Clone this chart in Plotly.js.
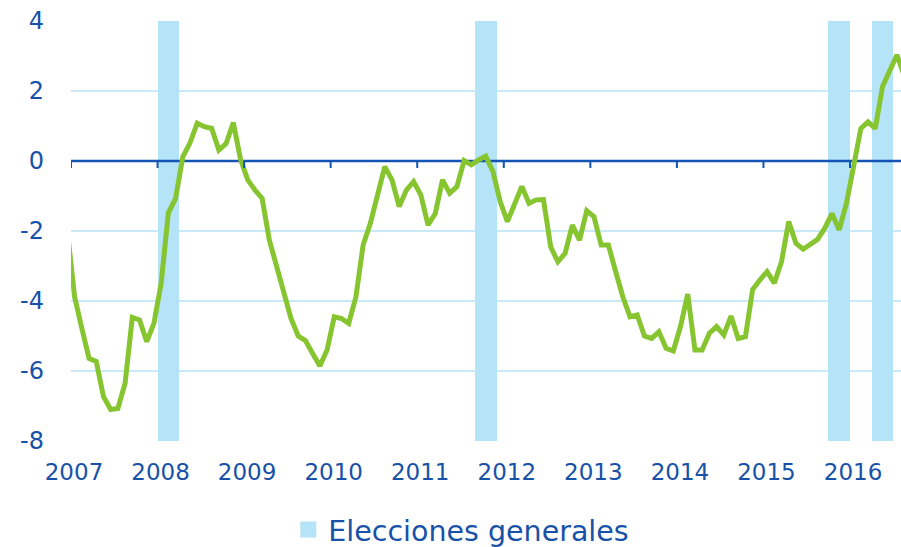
<!DOCTYPE html>
<html>
<head>
<meta charset="utf-8">
<script src="https://cdn.plot.ly/plotly-3.0.1.min.js"></script>
<style>
  html, body { margin: 0; padding: 0; background: #ffffff; }
  #chart { width: 901px; height: 547px; }
</style>
</head>
<body>
<div id="chart"></div>
<script>
// ---- Data ----
// Monthly series, first value = December 2006 (partly outside the axis range)
const firstMonth = "2006-12";
const vals2006 = [-2.0];
const vals2007 = [-3.88, -4.78, -5.64, -5.73, -6.73, -7.10, -7.07, -6.35, -4.47, -4.54, -5.16, -4.64];
const vals2008 = [-3.49, -1.48, -1.07, 0.12, 0.52, 1.08, 0.98, 0.93, 0.31, 0.50, 1.10, 0.05];
const vals2009 = [-0.54, -0.83, -1.07, -2.26, -3.02, -3.76, -4.50, -5.00, -5.13, -5.50, -5.86, -5.40];
const vals2010 = [-4.45, -4.50, -4.64, -3.88, -2.40, -1.78, -0.92, -0.16, -0.54, -1.30, -0.83, -0.59];
const vals2011 = [-0.97, -1.83, -1.50, -0.54, -0.92, -0.73, 0.01, -0.11, 0.03, 0.14, -0.30, -1.16];
const vals2012 = [-1.73, -1.21, -0.73, -1.21, -1.11, -1.10, -2.45, -2.88, -2.64, -1.83, -2.26, -1.42];
const vals2013 = [-1.59, -2.40, -2.40, -3.15, -3.88, -4.45, -4.40, -5.00, -5.07, -4.88, -5.35, -5.43];
const vals2014 = [-4.73, -3.80, -5.40, -5.40, -4.92, -4.73, -4.97, -4.43, -5.07, -5.02, -3.67, -3.40];
const vals2015 = [-3.16, -3.49, -2.88, -1.73, -2.35, -2.52, -2.40, -2.24, -1.92, -1.50, -1.97, -1.21];
const vals2016 = [-0.15, 0.93, 1.12, 0.93, 2.12, 2.55, 3.03, 2.45];

// Elections (shaded periods), months inclusive start / exclusive end
const electionStart = ["2008-01", "2011-09", "2015-10", "2016-04"];
const electionEnd   = ["2008-04", "2011-12", "2016-01", "2016-07"];
const electionName = "Elecciones generales";

// Axis
const yearTicks = [2007, 2008, 2009, 2010, 2011, 2012, 2013, 2014, 2015, 2016];
const yTickVals = [-8, -6, -4, -2, 0, 2, 4];
const yTickText = ["-8", "-6", "-4", "-2", "0", "2", "4"];
const xRange = [2007, 2016.589];
const yRange = [-8, 4];

// ---- Build ----
function toYear(ym) {
  const [y, m] = ym.split("-").map(Number);
  return y + (m - 1) / 12;
}
const values = [].concat(vals2006, vals2007, vals2008, vals2009, vals2010,
                         vals2011, vals2012, vals2013, vals2014, vals2015, vals2016);
const x0 = toYear(firstMonth);
const xs = values.map((_, i) => x0 + (i + 0.5) / 12);

const bandX = electionStart.map((s, i) => (toYear(s) + toYear(electionEnd[i])) / 2);
const bandW = electionStart.map((s, i) => toYear(electionEnd[i]) - toYear(s));
const bandH = electionStart.map(() => yRange[1] - yRange[0]);
const bandBase = electionStart.map(() => yRange[0]);

const BLUE = "#1752A8";
const AXISBLUE = "#1454B4";
const BAND = "#B5E3F7";
const GRID = "#C9E9F8";
const GREEN = "#86C530";
const FONT = "DejaVu Sans, Liberation Sans, Arial, sans-serif";

const traces = [
  {
    type: "bar",
    x: bandX,
    y: bandH,
    base: bandBase,
    width: bandW,
    name: electionName,
    marker: { color: BAND, line: { width: 0 } },
    hoverinfo: "skip",
    showlegend: false,
    legendgroup: "elec"
  },
  {
    // legend proxy for the shaded election periods (larger square symbol)
    type: "scatter",
    mode: "markers",
    x: [null],
    y: [null],
    name: electionName,
    legendgroup: "elec",
    marker: { symbol: "square", size: 16, color: BAND },
    hoverinfo: "skip",
    showlegend: true
  },
  {
    type: "scatter",
    mode: "lines",
    x: xRange,
    y: [0, 0],
    line: { color: AXISBLUE, width: 2.6 },
    hoverinfo: "skip",
    showlegend: false
  },
  {
    type: "scatter",
    mode: "lines",
    x: xs,
    y: values,
    line: { color: GREEN, width: 5, shape: "linear" },
    hoverinfo: "skip",
    showlegend: false
  }
];

const shapes = yearTicks.map(yr => ({
  type: "line",
  xref: "x", yref: "y",
  x0: yr, x1: yr,
  ysizemode: "pixel",
  yanchor: 0,
  y0: 0, y1: -7,
  line: { color: AXISBLUE, width: 2 },
  layer: "above"
}));

const layout = {
  width: 901,
  height: 547,
  margin: { l: 71, r: 0, t: 21, b: 106, pad: 0 },
  paper_bgcolor: "#ffffff",
  plot_bgcolor: "#ffffff",
  font: { family: FONT, color: BLUE },
  showlegend: true,
  legend: {
    orientation: "h",
    xref: "container", yref: "container",
    x: 0.512, xanchor: "center",
    y: 0.031, yanchor: "middle",
    font: { family: FONT, size: 28.5, color: BLUE },
    bgcolor: "rgba(0,0,0,0)",
    itemsizing: "trace"
  },
  xaxis: {
    range: xRange,
    tickvals: yearTicks,
    ticktext: yearTicks.map(String),
    showgrid: false,
    zeroline: false,
    showline: false,
    ticks: "",
    automargin: false,
    ticklabelstandoff: 15,
    ticklabelshift: 3,
    tickfont: { family: FONT, size: 23, color: BLUE },
    fixedrange: true
  },
  yaxis: {
    range: yRange,
    tickvals: yTickVals,
    ticktext: yTickText,
    showgrid: true,
    gridcolor: GRID,
    gridwidth: 2,
    zeroline: false,
    showline: false,
    ticks: "",
    automargin: false,
    ticklabelstandoff: 26,
    tickfont: { family: FONT, size: 24, color: BLUE },
    fixedrange: true
  },
  shapes: shapes,
  bargap: 0
};

Plotly.newPlot("chart", traces, layout, { displayModeBar: false, staticPlot: true });
</script>
</body>
</html>
